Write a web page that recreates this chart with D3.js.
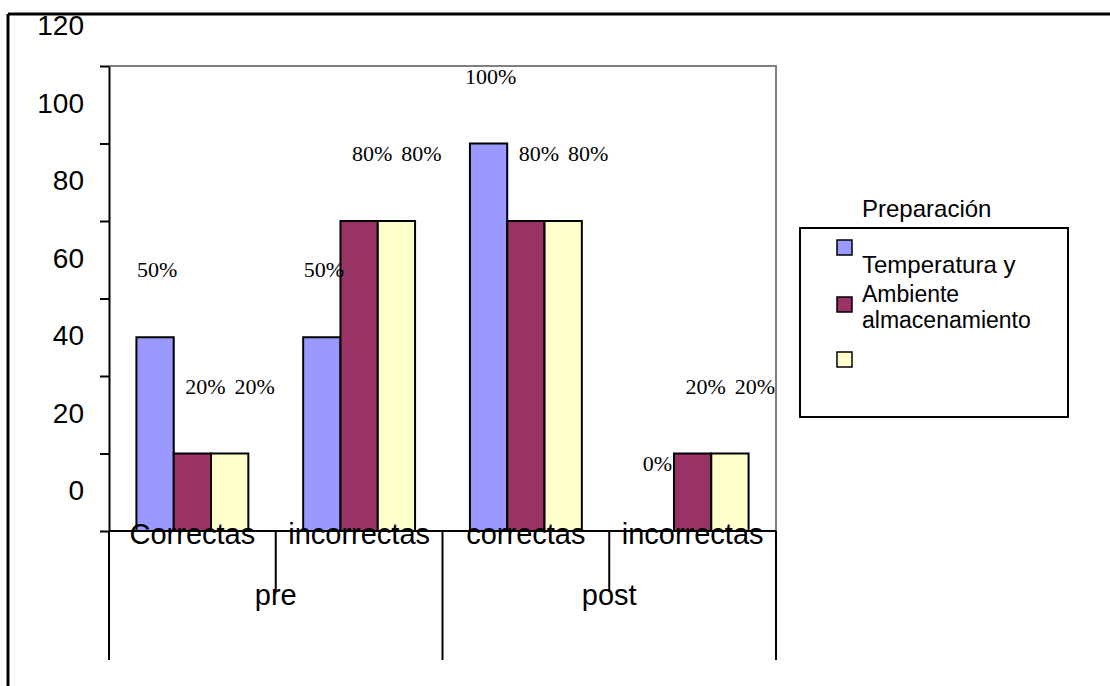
<!DOCTYPE html>
<html>
<head>
<meta charset="utf-8">
<script src="https://cdn.jsdelivr.net/npm/d3@7"></script>
<style>
  html, body { margin: 0; padding: 0; background: #fff; }
  svg { display: block; }
</style>
</head>
<body>
<svg id="chart" width="1110" height="686"></svg>
<script>
// ---- data ----
const groups = ["pre", "post"];
const categories = ["Correctas", "incorrectas", "correctas", "incorrectas"];
const categoryGroup = ["pre", "pre", "post", "post"];
const seriesNames = ["Temperatura y", "Ambiente almacenamiento", ""];
const seriesA = [50, 50, 100, 0];   // Temperatura y
const seriesB = [20, 80, 80, 20];   // Ambiente almacenamiento
const seriesC = [20, 80, 80, 20];   // (sin nombre)
const seriesValues = [seriesA, seriesB, seriesC];
const yTicks = [0, 20, 40, 60, 80, 100, 120];
const legendTitle = "Preparación";

// ---- styles ----
const colors = ["#9999FF", "#993366", "#FFFFCC"];
const labelOffsets = [2, 13, 25];
const sans = "'Liberation Sans', Arial, sans-serif";
const serif = "'Liberation Serif', 'Times New Roman', serif";

const svg = d3.select("#chart");
const plot = { left: 109, right: 776, top: 66, bottom: 531 };
const divBottom = 660, innerDivBottom = 592;

const keys = categories.map((c, i) => i);
const x = d3.scaleBand().domain(keys).range([plot.left, plot.right]).padding(0);
const xs = d3.scaleBand().domain([0, 1, 2]).range([0, x.bandwidth()]).paddingInner(0).paddingOuter(0.735);
const y = d3.scaleLinear().domain([0, 120]).range([plot.bottom, plot.top]);

// outer chart frame (top and left only visible)
svg.append("line").attr("x1", 8).attr("x2", 1110).attr("y1", 14).attr("y2", 14)
  .attr("stroke", "#000").attr("stroke-width", 3);
svg.append("line").attr("x1", 8).attr("x2", 8).attr("y1", 14).attr("y2", 686)
  .attr("stroke", "#000").attr("stroke-width", 3);

// plot area border (gray)
svg.append("path")
  .attr("d", `M${plot.left},${y(120)}H${plot.right}V${plot.bottom}`)
  .attr("fill", "none").attr("stroke", "#808080").attr("stroke-width", 2);

// bars
const barData = [];
seriesValues.forEach((vals, s) => vals.forEach((v, i) => barData.push({ s, i, v })));
svg.append("g").selectAll("rect").data(barData.filter(d => d.v > 0)).join("rect")
  .attr("x", d => x(d.i) + xs(d.s))
  .attr("y", d => y(d.v))
  .attr("width", xs.bandwidth())
  .attr("height", d => y(0) - y(d.v))
  .attr("fill", d => colors[d.s])
  .attr("stroke", "#000").attr("stroke-width", 2);

// y axis
const yAxis = d3.axisLeft(y).tickValues(yTicks).tickSize(9).tickSizeOuter(0).tickPadding(16);
const gy = svg.append("g").attr("transform", `translate(${plot.left},0)`).call(yAxis);
gy.select(".domain").attr("stroke", "#000").attr("stroke-width", 2);
gy.selectAll(".tick line").attr("stroke", "#000").attr("stroke-width", 2);
gy.selectAll(".tick text").attr("y", -40).attr("fill", "#000")
  .attr("font-family", sans).attr("font-size", 28);

// x baseline
svg.append("line").attr("x1", plot.left).attr("x2", plot.right)
  .attr("y1", y(0)).attr("y2", y(0)).attr("stroke", "#000").attr("stroke-width", 2);

// category dividers
const boundaries = d3.range(categories.length + 1).map(i =>
  i < categories.length ? x(i) : x(categories.length - 1) + x.bandwidth());
svg.append("g").selectAll("line").data(boundaries).join("line")
  .attr("x1", d => d).attr("x2", d => d)
  .attr("y1", y(0))
  .attr("y2", (d, i) => (i === 0 || i === categories.length || categoryGroup[i] !== categoryGroup[i - 1]) ? divBottom : innerDivBottom)
  .attr("stroke", "#000").attr("stroke-width", 2);

// category labels
svg.append("g").selectAll("text").data(categories).join("text")
  .attr("x", (d, i) => x(i) + x.bandwidth() / 2)
  .attr("y", 544)
  .attr("text-anchor", "middle")
  .attr("font-family", sans).attr("font-size", 29).attr("fill", "#000")
  .text(d => d);

// group labels
svg.append("g").selectAll("text").data(groups).join("text")
  .attr("x", g => {
    const idx = keys.filter(i => categoryGroup[i] === g);
    return (x(idx[0]) + x(idx[idx.length - 1]) + x.bandwidth()) / 2;
  })
  .attr("y", 605)
  .attr("text-anchor", "middle")
  .attr("font-family", sans).attr("font-size", 29).attr("fill", "#000")
  .text(d => d);

// data labels
svg.append("g").selectAll("text").data(barData).join("text")
  .attr("x", d => x(d.i) + xs(d.s) + xs.bandwidth() / 2 + labelOffsets[d.s])
  .attr("y", d => y(d.v) - 60)
  .attr("text-anchor", "middle")
  .attr("font-family", serif).attr("font-size", 22).attr("fill", "#000")
  .text(d => d.v + "%");

// legend
const lg = svg.append("g");
lg.append("text").attr("x", 862).attr("y", 217)
  .attr("font-family", sans).attr("font-size", 24).attr("fill", "#000").text(legendTitle);
lg.append("rect").attr("x", 800).attr("y", 228).attr("width", 268).attr("height", 189)
  .attr("fill", "#fff").attr("stroke", "#000").attr("stroke-width", 2);
const swatchY = [240, 297, 352];
lg.selectAll("rect.sw").data(colors).join("rect").attr("class", "sw")
  .attr("x", 837).attr("y", (d, i) => swatchY[i]).attr("width", 15).attr("height", 15)
  .attr("fill", d => d).attr("stroke", "#000").attr("stroke-width", 1.5);
lg.append("text").attr("x", 862).attr("y", 273)
  .attr("font-family", sans).attr("font-size", 24).attr("fill", "#000")
  .text(seriesNames[0]);
const t2 = lg.append("text").attr("x", 862)
  .attr("font-family", sans).attr("font-size", 23).attr("fill", "#000");
t2.append("tspan").attr("x", 862).attr("y", 302).text("Ambiente");
t2.append("tspan").attr("x", 862).attr("y", 328).text("almacenamiento");
</script>
</body>
</html>
